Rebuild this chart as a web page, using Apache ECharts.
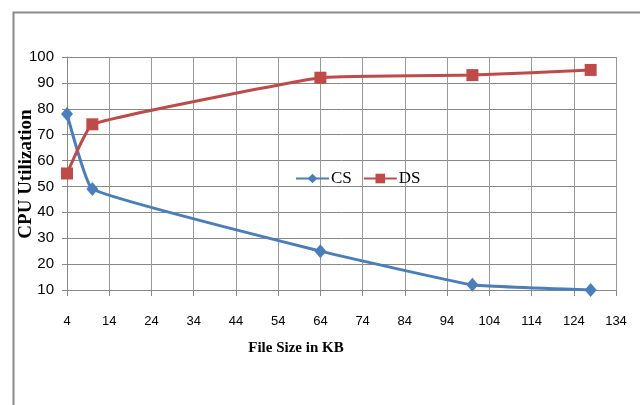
<!DOCTYPE html>
<html>
<head>
<meta charset="utf-8">
<script src="https://cdn.jsdelivr.net/npm/echarts@6/dist/echarts.min.js"></script>
<style>html,body{margin:0;padding:0;background:#fff}#c{width:640px;height:405px}</style>
</head>
<body>
<div id="c"></div>
<script>
var fileSizes = [4, 10, 64, 100, 128];
var csValues = [78, 49, 25, 12, 10];
var dsValues = [55, 74, 92, 93, 95];
var seriesNames = ['CS', 'DS'];
var xTitle = 'File Size in KB';
var yTitle = 'CPU Utilization';

function pairs(xs, ys) { return xs.map(function (x, i) { return [x, ys[i]]; }); }

var chart = echarts.init(document.getElementById('c'));
chart.setOption({
  animation: false,
  backgroundColor: '#fff',
  graphic: [{
    type: 'rect', left: 11, top: 10,
    shape: { width: 628, height: 420 },
    style: { fill: 'none', stroke: '#8a8a8a', lineWidth: 2 }
  }, {
    type: 'text', x: 26, y: 174, rotation: Math.PI / 2,
    style: { text: yTitle, font: 'bold 19px "Liberation Serif"', fill: '#000', textAlign: 'center', textVerticalAlign: 'middle' }
  }, {
    type: 'text', x: 296, y: 348,
    style: { text: xTitle, font: 'bold 15px "Liberation Serif"', fill: '#000', textAlign: 'center', textVerticalAlign: 'middle' }
  }],
  grid: { left: 67, right: 24, top: 57, bottom: 115 },
  legend: {
    data: seriesNames,
    left: 290, top: 165,
    itemWidth: 33, itemHeight: 12, itemGap: 11,
    textStyle: { fontFamily: 'Liberation Serif', fontSize: 17, color: '#000', padding: [0, 0, 0, -3] }
  },
  xAxis: {
    type: 'value', min: 4, max: 134, interval: 10,
    axisLine: { show: true, lineStyle: { color: '#888', width: 1 } },
    axisTick: { show: true, length: 6, lineStyle: { color: '#888' } },
    axisLabel: { fontFamily: 'Liberation Sans', fontSize: 13, color: '#000', margin: 25 },
    splitLine: { show: true, lineStyle: { color: '#999', width: 1 } }
  },
  yAxis: {
    type: 'value', min: 10, max: 100, interval: 10,
    axisLine: { show: true, lineStyle: { color: '#888', width: 1 } },
    axisTick: { show: true, length: 5, lineStyle: { color: '#888' } },
    axisLabel: { fontFamily: 'Liberation Sans', fontSize: 15, color: '#000', margin: 13 },
    splitLine: { show: true, lineStyle: { color: '#888', width: 1 } }
  },
  series: [{
    name: 'CS', type: 'line', data: pairs(fileSizes, csValues),
    smooth: 0.1, symbol: 'diamond', symbolSize: [12, 14],
    lineStyle: { color: '#4a7ebb', width: 3 },
    itemStyle: { color: '#4a7ebb' }
  }, {
    name: 'DS', type: 'line', data: pairs(fileSizes, dsValues),
    smooth: 0.1, symbol: 'rect', symbolSize: 12,
    lineStyle: { color: '#be4b48', width: 3 },
    itemStyle: { color: '#be4b48' }
  }]
});
</script>
</body>
</html>
